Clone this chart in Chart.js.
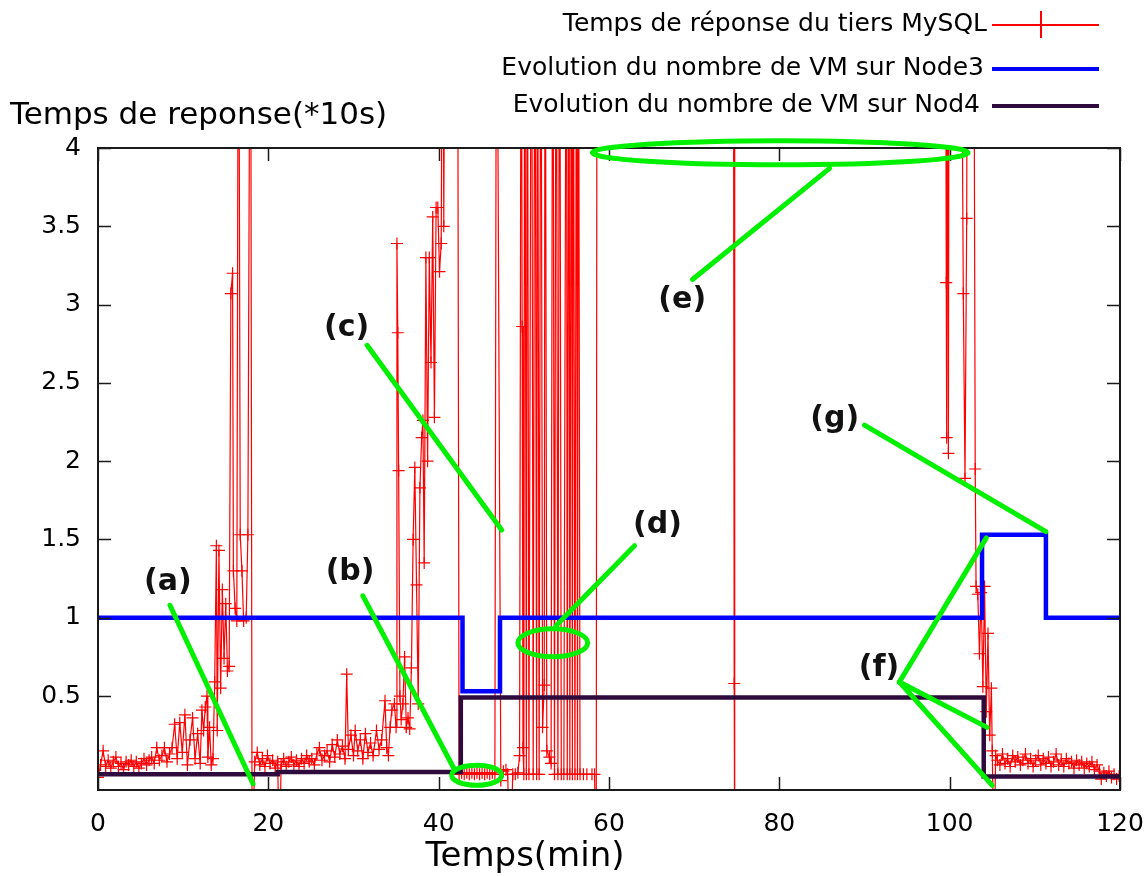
<!DOCTYPE html>
<html><head><meta charset="utf-8">
<script src="https://cdn.jsdelivr.net/npm/chart.js@4.4.1/dist/chart.umd.min.js"></script>
<style>html,body{margin:0;padding:0;background:#fff}canvas{display:block}</style>
</head><body>
<canvas id="c" width="1147" height="876"></canvas>
<script>
// ---- data (minutes, values) ----
const seriesLabels = ['Temps de réponse du tiers MySQL', 'Evolution du nombre de VM sur Node3', 'Evolution du nombre de VM sur Nod4'];
const xTickValues = [0, 20, 40, 60, 80, 100, 120];
const xTickLabels = ['0', '20', '40', '60', '80', '100', '120'];
const yTickValues = [0.5, 1, 1.5, 2, 2.5, 3, 3.5, 4];
const yTickLabels = ['0.5', '1', '1.5', '2', '2.5', '3', '3.5', '4'];
const yTitle = 'Temps de reponse(*10s)';
const xTitle = 'Temps(min)';

// response time of the MySQL tier: [minute, value]; 6 = above the plotted range, -0.6 = below it
const mysqlResponse = [
 [0,-0.02],[0.3,0.06],[0.6,0.15],[0.9,0.05],[1.2,0.09],[1.5,0.04],[1.8,0.08],[2.1,0.11],[2.4,0.05],[2.7,0.07],
 [3.0,0.03],[3.3,0.08],[3.6,0.06],[3.9,0.09],[4.2,0.05],[4.5,0.08],[4.8,0.04],[5.1,0.07],[5.4,0.10],[5.7,0.06],
 [6.0,0.09],[6.3,0.11],[6.6,0.07],[6.9,0.17],[7.2,0.09],[7.5,0.12],[7.8,0.17],[8.1,0.08],[8.4,0.13],[8.7,0.17],
 [9.0,0.32],[9.3,0.10],[9.6,0.33],[9.9,0.14],[10.2,0.38],[10.5,0.06],[10.8,0.22],[11.1,0.36],[11.4,0.10],[11.7,0.26],
 [12.0,0.07],[12.2,0.41],[12.4,0.28],[12.6,0.43],[12.8,0.50],[12.9,0.11],[13.1,0.30],[13.3,0.06],[13.5,0.10],[13.7,0.59],
 [13.9,1.46],[14.0,0.28],[14.2,1.43],[14.4,0.55],[14.6,1.18],[14.8,0.74],[15.0,1.09],[15.2,0.66],[15.4,0.69],[15.6,3.07],
 [15.8,3.20],[15.9,1.30],[16.1,1.06],[16.3,0.98],[16.5,6],[16.7,1.53],[16.9,1.30],[17.1,0.98],[17.4,1.00],[17.6,1.53],
 [17.9,6],[18.1,-0.6],
 [18.4,0.08],[18.7,0.14],[19.0,0.06],[19.3,0.10],[19.6,0.05],[19.9,0.12],[20.2,0.07],[20.5,0.09],[20.8,0.04],[21.1,0.08],
 [21.3,-0.6],[21.5,0.06],[21.8,0.10],[22.1,0.05],[22.4,0.08],[22.7,0.11],[23.0,0.06],[23.3,0.09],[23.6,0.05],[23.9,0.10],
 [24.2,0.07],[24.5,0.12],[24.8,0.08],[25.1,0.10],[25.4,0.06],[25.7,0.13],[26.0,0.17],[26.3,0.09],[26.6,0.12],[26.9,0.15],
 [27.2,0.08],[27.5,0.19],[27.8,0.11],[28.1,0.22],[28.4,0.13],[28.7,0.18],[29.0,0.10],[29.2,0.64],[29.4,0.16],[29.7,0.25],
 [30.0,0.12],[30.2,0.28],[30.5,0.15],[30.8,0.22],[31.1,0.10],[31.4,0.26],[31.7,0.14],[32.0,0.20],[32.3,0.12],[32.7,0.28],
 [33.0,0.16],[33.3,0.22],[33.7,0.47],[33.9,0.17],[34.1,0.12],[34.3,0.30],[34.5,0.41],[34.8,0.45],
 [35.0,0.30],[35.1,3.39],[35.2,2.82],[35.3,1.94],[35.45,0.50],[35.6,0.35],[35.8,0.45],[36.0,0.75],[36.2,0.30],[36.4,0.36],
 [36.6,0.29],[36.8,0.68],[37.0,1.50],[37.2,1.96],[37.4,1.21],[37.6,0.45],[37.8,1.83],[38.0,2.15],[38.15,2.26],[38.3,1.35],
 [38.5,3.30],[38.7,2.00],[38.9,3.30],[39.1,2.63],[39.3,3.56],[39.5,2.28],[39.7,3.62],[39.9,3.62],[40.1,3.21],[40.3,3.39],
 [40.5,6],[40.6,3.50],[40.8,6],[41.5,6],[42.2,6],[42.4,0.0],
 [42.7,0.01],[43.0,0.0],[43.3,0.01],[43.6,0.0],[43.9,0.01],[44.2,0.0],[44.5,0.01],[44.8,0.0],[45.1,0.01],[45.4,0.0],
 [45.7,0.01],[46.0,0.0],[46.3,0.01],[46.6,0.0],[46.8,6],[47.3,-0.04],[47.6,0.02],[47.9,0.03],[48.1,0.0],[48.4,-0.6],
 [48.7,0.0],[49.0,0.0],[49.3,0.01],[49.5,0.12],
 [49.7,6],[49.8,2.86],[49.9,0.17],[50.0,0.0],[50.1,6],[50.3,0.0],[50.4,6],[50.6,0.0],[50.9,6],[51.1,0.0],
 [51.3,6],[51.5,0.0],[51.6,6],[51.8,0.0],[52.0,6],[52.2,0.30],[52.4,0.57],[52.5,6],[52.7,0.15],[53.0,0.11],
 [53.2,0.07],[53.4,6],[53.6,0.0],[53.8,6],[54.0,0.0],[54.2,6],[54.4,0.0],[54.7,0.0],[55.0,6],[55.1,0.0],
 [55.3,6],[55.4,0.0],[55.6,6],[55.7,0.0],[55.8,6],[56.0,0.0],[56.2,6],[56.3,0.0],[56.4,6],[56.6,0.0],
 [57.0,0.0],[57.4,0.0],[58.0,0.0],[58.3,0.0],[58.5,-0.6],[58.6,6],
 [62,6],[66,6],[70,6],[74.6,6],[74.7,0.58],[74.74,-0.6],[74.78,6],[80,6],[86,6],[92,6],[99.0,6],
 [99.5,6],[99.6,3.14],[99.65,2.15],[99.7,6],[99.85,2.05],[99.95,6],[101.3,6],[101.6,3.07],[101.8,1.89],[102.0,3.55],
 [102.1,6],[102.8,6],[103.0,1.95],[103.1,1.20],[103.3,1.15],[103.5,0.77],[103.7,1.16],[103.9,0.56],[104.1,1.20],[104.3,0.40],
 [104.5,0.90],[104.7,0.25],[104.9,0.55],[105.0,0.15],[105.2,-0.6],[105.4,0.12],[105.6,0.09],
 [105.9,0.06],[106.2,0.13],[106.5,0.07],[106.8,0.10],[107.1,0.05],[107.4,0.12],[107.7,0.08],[108.0,0.11],[108.3,0.06],[108.6,0.09],
 [108.9,0.13],[109.2,0.07],[109.5,0.10],[109.8,0.05],[110.1,0.09],[110.4,0.12],[110.7,0.06],[111.0,0.10],[111.3,0.07],[111.6,0.11],
 [111.9,0.05],[112.2,0.08],[112.5,0.13],[112.8,0.06],[113.1,0.09],[113.4,0.05],[113.7,0.10],[114.0,0.07],[114.3,0.08],[114.6,0.04],
 [114.9,0.09],[115.2,0.06],[115.5,0.08],[115.8,0.04],[116.1,0.07],[116.4,0.05],[116.7,0.08],[117.0,0.03],[117.3,0.06],[117.6,0.02],
 [117.8,-0.03],[118.1,0.01],[118.4,-0.01],[118.7,0.02],[119.0,-0.02],[119.3,0.0],[119.6,-0.03],[119.9,-0.01]
];

// number of VMs (scaled), change points
const node3Minutes = [0, 42.8, 47.2, 103.8, 111.3, 120];
const node3Values  = [1, 0.53, 1, 1.53, 1, 1];
const node4Minutes = [0, 21.1, 42.6, 104.0, 120];
const node4Values  = [0, 0.015, 0.49, -0.013, -0.013];

// annotations (in data units)
const noteLabels = ['(a)', '(b)', '(c)', '(d)', '(e)', '(f)', '(g)'];
const noteLabelPos = [[8.2,1.23],[29.6,1.29],[29.2,2.85],[65.7,1.59],[68.6,3.03],[91.7,0.68],[86.5,2.27]];
const noteLines = [
 [8.45,1.08,18.2,-0.06],
 [31.1,1.14,41.9,0.026],
 [31.6,2.74,47.4,1.56],
 [63.0,1.46,53.8,0.95],
 [69.8,3.16,85.9,3.87],
 [94.1,0.59,104.3,1.51],
 [94.1,0.59,104.4,0.30],
 [94.1,0.59,105.0,-0.07],
 [90.0,2.23,111.3,1.55]
];
const noteEllipses = [ // center t, v, radius t, radius v
 [44.46,-0.006,2.93,0.064],
 [53.4,0.84,4.1,0.089],
 [80.1,3.97,22.05,0.077]
];

const FONT = "'DejaVu Sans', sans-serif";
const colors = ['#ff0000', '#0000ff', '#2e0b3c'];

const decor = {
  id: 'decor',
  afterDraw(chart) {
    const ctx = chart.ctx, a = chart.chartArea;
    const xs = chart.scales.x, ys = chart.scales.y;
    ctx.save();
    // frame
    ctx.strokeStyle = '#1a1a1a';
    ctx.lineWidth = 2;
    ctx.strokeRect(a.left, a.top, a.right - a.left, a.bottom - a.top);
    // inward ticks
    ctx.lineWidth = 1.5;
    ctx.beginPath();
    yTickValues.forEach(v => {
      const y = Math.round(ys.getPixelForValue(v)) + 0.5;
      ctx.moveTo(a.left, y); ctx.lineTo(a.left + 13, y);
      ctx.moveTo(a.right, y); ctx.lineTo(a.right - 13, y);
    });
    xTickValues.forEach(t => {
      const x = Math.round(xs.getPixelForValue(t)) + 0.5;
      ctx.moveTo(x, a.bottom); ctx.lineTo(x, a.bottom - 13);
      ctx.moveTo(x, a.top); ctx.lineTo(x, a.top + 13);
    });
    ctx.stroke();

    // titles
    ctx.fillStyle = '#000';
    ctx.font = '31px ' + FONT;
    ctx.textBaseline = 'middle';
    ctx.textAlign = 'left';
    ctx.fillText(yTitle, 10, 116);
    ctx.font = '34px ' + FONT;
    ctx.textAlign = 'center';
    ctx.fillText(xTitle, 525, 857);

    // legend
    const legY = [24, 68, 105];
    const legTextRight = [987, 984, 980];
    ctx.font = '25px ' + FONT;
    ctx.textAlign = 'right';
    chart.data.datasets.forEach((ds, i) => {
      ctx.fillStyle = '#000';
      ctx.fillText(ds.label, legTextRight[i], legY[i]);
      ctx.strokeStyle = ds.borderColor;
      ctx.lineWidth = i === 0 ? 2 : 4;
      ctx.beginPath();
      ctx.moveTo(992, legY[i] + 1); ctx.lineTo(1099, legY[i] + 1);
      if (i === 0) { ctx.moveTo(1041, legY[i] - 13); ctx.lineTo(1041, legY[i] + 14); }
      ctx.stroke();
    });

    // annotations
    ctx.strokeStyle = '#00f000';
    ctx.lineWidth = 5;
    ctx.lineCap = 'round';
    noteLines.forEach(([t1, v1, t2, v2]) => {
      ctx.beginPath();
      ctx.moveTo(xs.getPixelForValue(t1), ys.getPixelForValue(v1));
      ctx.lineTo(xs.getPixelForValue(t2), ys.getPixelForValue(v2));
      ctx.stroke();
    });
    noteEllipses.forEach(([t, v, rt, rv]) => {
      const cx = xs.getPixelForValue(t), cy = ys.getPixelForValue(v);
      const rx = Math.abs(xs.getPixelForValue(t + rt) - cx);
      const ry = Math.abs(ys.getPixelForValue(v + rv) - cy);
      ctx.beginPath();
      ctx.ellipse(cx, cy, rx, ry, 0, 0, Math.PI * 2);
      ctx.stroke();
    });
    ctx.fillStyle = '#111';
    ctx.font = 'bold 30px ' + FONT;
    ctx.textAlign = 'center';
    noteLabels.forEach((s, i) => {
      const [t, v] = noteLabelPos[i];
      ctx.fillText(s, xs.getPixelForValue(t), ys.getPixelForValue(v));
    });
    ctx.restore();
  }
};

new Chart(document.getElementById('c'), {
  type: 'line',
  data: {
    datasets: [
      {
        label: seriesLabels[0],
        data: mysqlResponse.map(([t, v]) => ({ x: t, y: v })),
        borderColor: colors[0], backgroundColor: colors[0],
        borderWidth: 1.2, pointStyle: 'cross', pointRadius: 6,
        pointBorderColor: colors[0], pointBorderWidth: 1.2,
        tension: 0, fill: false, clip: 0, order: 3
      },
      {
        label: seriesLabels[1],
        data: node3Minutes.map((t, i) => ({ x: t, y: node3Values[i] })),
        borderColor: colors[1], backgroundColor: colors[1],
        borderWidth: 4.5, pointRadius: 0, stepped: true,
        borderJoinStyle: 'miter', fill: false, clip: 4, order: 2
      },
      {
        label: seriesLabels[2],
        data: node4Minutes.map((t, i) => ({ x: t, y: node4Values[i] })),
        borderColor: colors[2], backgroundColor: colors[2],
        borderWidth: 4.5, pointRadius: 0, stepped: true,
        borderJoinStyle: 'miter', fill: false, clip: 4, order: 1
      }
    ]
  },
  options: {
    responsive: false,
    animation: false,
    layout: { padding: { top: 148, right: 27, left: 0, bottom: 0 } },
    plugins: { legend: { display: false }, tooltip: { enabled: false } },
    scales: {
      x: {
        type: 'linear', min: 0, max: 120,
        afterBuildTicks: s => { s.ticks = xTickValues.map(v => ({ value: v })); },
        afterFit: s => { s.height = 86; s.paddingLeft = 0; s.paddingRight = 0; },
        grid: { display: false, drawTicks: false },
        border: { display: false },
        ticks: {
          padding: 19, color: '#000', maxRotation: 0, autoSkip: false,
          font: { family: FONT, size: 25 },
          callback: (v, i) => xTickLabels[i]
        }
      },
      y: {
        type: 'linear', min: -0.1, max: 4,
        afterBuildTicks: s => { s.ticks = yTickValues.map(v => ({ value: v })); },
        afterFit: s => { s.width = 98; s.paddingTop = 0; s.paddingBottom = 0; },
        grid: { display: false, drawTicks: false },
        border: { display: false },
        ticks: {
          padding: 17, color: '#000', autoSkip: false,
          font: { family: FONT, size: 25 },
          callback: (v, i) => yTickLabels[i]
        }
      }
    }
  },
  plugins: [decor]
});
</script>
</body></html>
